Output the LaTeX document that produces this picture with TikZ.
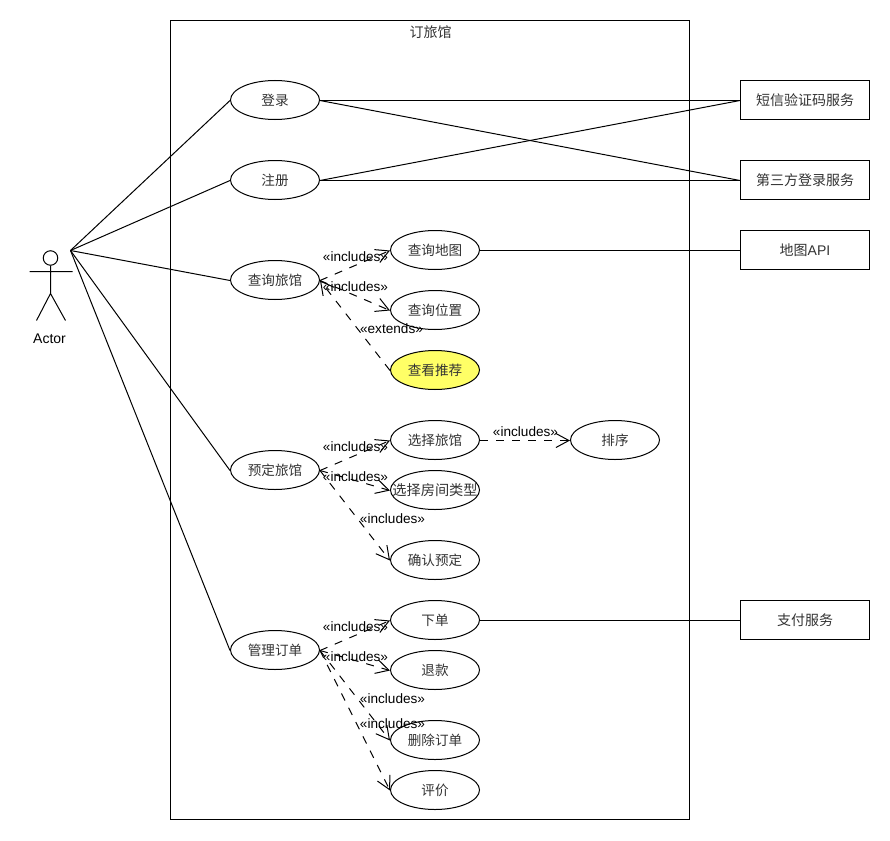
\documentclass[tikz,border=0pt]{standalone}
\usepackage{fontspec}
\setmainfont{Liberation Sans}
\newfontfamily\cjk{Noto Sans CJK SC}
\usetikzlibrary{arrows.meta,shapes.geometric}
\tikzset{
  every picture/.style={x=1pt,y=-1pt},
  usecase/.style={draw=black,line width=1pt,ellipse,minimum width=89pt,minimum height=39pt,inner sep=0pt,xshift=-0.5pt,yshift=0.5pt,fill=white,font=\cjk\fontsize{13.6}{15}\selectfont,text=black!80},
  service/.style={draw=black,line width=1pt,rectangle,minimum width=129pt,minimum height=39pt,inner sep=0pt,xshift=-0.5pt,yshift=0.5pt,fill=white,font=\cjk\fontsize{14}{15}\selectfont,text=black!80},
  assoc/.style={draw=black,line width=1pt},
  dep/.style={draw=black,line width=1pt,dash pattern=on 8pt off 8pt,-{Straight Barb[length=13pt,width=14pt,line width=1pt]}},
  stereo/.style={inner sep=0pt,font=\fontsize{13.6}{15}\selectfont,text=black},
  limb/.style={draw=black,line width=1pt}
}
\begin{document}
\begin{tikzpicture}
\useasboundingbox (-0.5,-0.5) rectangle (889.5,839.5);
\fill[white] (-0.5,-0.5) rectangle (889.5,839.5);
\node[draw=black,line width=1pt,minimum width=519pt,minimum height=799pt,inner sep=0pt] (frame) at (429.5,419.5) {};
\node[inner sep=0pt,font=\cjk\fontsize{14}{15}\selectfont,text=black!80] (title) at (430,32) {订旅馆};

% actor
\node[draw=black,line width=1pt,circle,minimum size=14.5pt,inner sep=0pt] (head) at (50,257.5) {};
\coordinate (hip) at (50,293);
\coordinate (armL) at (29,271);
\coordinate (armR) at (72,271);
\coordinate (legL) at (36,320);
\coordinate (legR) at (65,320);
\draw[limb] (head.south) -- (hip) (armL) -- (armR) (legL) -- (hip) -- (legR);
\node[stereo,font=\fontsize{14}{15}\selectfont] (actorlabel) at (49,338) {Actor};
\coordinate (actor) at (70,250);

% use cases
\node[usecase] (login) at (275,100) {登录};
\node[usecase] (reg) at (275,180) {注册};
\node[usecase] (search) at (275,280) {查询旅馆};
\node[usecase] (book) at (275,470) {预定旅馆};
\node[usecase] (manage) at (275,650) {管理订单};
\node[usecase] (map) at (435,250) {查询地图};
\node[usecase] (pos) at (435,310) {查询位置};
\node[usecase,fill={rgb,255:red,255;green,255;blue,102}] (rec) at (435,370) {查看推荐};
\node[usecase] (sel) at (435,440) {选择旅馆};
\node[usecase] (room) at (435,490) {\makebox[20pt]{\fontsize{14.2}{15}\selectfont 选择房间类型}};
\node[usecase] (conf) at (435,560) {确认预定};
\node[usecase] (sort) at (615,440) {排序};
\node[usecase] (order) at (435,620) {下单};
\node[usecase] (refund) at (435,670) {退款};
\node[usecase] (del) at (435,740) {删除订单};
\node[usecase] (rate) at (435,790) {评价};

% services
\node[service] (sms) at (805,100) {短信验证码服务};
\node[service] (third) at (805,180) {第三方登录服务};
\node[service] (mapapi) at (805,250) {地图{\rmfamily API}};
\node[service] (pay) at (805,620) {支付服务};

% associations
\foreach \t in {login,reg,search,book,manage} \draw[assoc] (actor) -- ([yshift=-0.5pt]\t.west);
\draw[assoc] ([yshift=-0.5pt]login.east) -- ([yshift=-0.5pt]sms.west);
\draw[assoc] ([yshift=-0.5pt]login.east) -- ([yshift=-0.5pt]third.west);
\draw[assoc] ([yshift=-0.5pt]reg.east) -- ([yshift=-0.5pt]sms.west);
\draw[assoc] ([yshift=-0.5pt]reg.east) -- ([yshift=-0.5pt]third.west);
\draw[assoc] ([yshift=-0.5pt]map.east) -- ([yshift=-0.5pt]mapapi.west);
\draw[assoc] ([yshift=-0.5pt]order.east) -- ([yshift=-0.5pt]pay.west);

% dependencies
\draw[dep] ([yshift=-0.5pt]search.east) -- ([yshift=-0.5pt]map.west);
\draw[dep] ([yshift=-0.5pt]search.east) -- ([yshift=-0.5pt]pos.west);
\draw[dep] ([yshift=-0.5pt]rec.west) -- ([yshift=-0.5pt]search.east);
\draw[dep] ([yshift=-0.5pt]book.east) -- ([yshift=-0.5pt]sel.west);
\draw[dep] ([yshift=-0.5pt]book.east) -- ([yshift=-0.5pt]room.west);
\draw[dep] ([yshift=-0.5pt]book.east) -- ([yshift=-0.5pt]conf.west);
\draw[dep] ([yshift=-0.5pt]sel.east) -- ([yshift=-0.5pt]sort.west);
\draw[dep] ([yshift=-0.5pt]manage.east) -- ([yshift=-0.5pt]order.west);
\draw[dep] ([yshift=-0.5pt]manage.east) -- ([yshift=-0.5pt]refund.west);
\draw[dep] ([yshift=-0.5pt]manage.east) -- ([yshift=-0.5pt]del.west);
\draw[dep] ([yshift=-0.5pt]manage.east) -- ([yshift=-0.5pt]rate.west);

% stereotype labels
\node[stereo] (l1) at (355,256) {«includes»};
\node[stereo] (l2) at (355,286) {«includes»};
\node[stereo] (l3) at (391,328) {«extends»};
\node[stereo] (l4) at (355,446) {«includes»};
\node[stereo] (l5) at (355,476) {«includes»};
\node[stereo] (l6) at (392,518) {«includes»};
\node[stereo] (l7) at (525,431) {«includes»};
\node[stereo] (l8) at (355,626) {«includes»};
\node[stereo] (l9) at (355,656) {«includes»};
\node[stereo] (l10) at (392,698) {«includes»};
\node[stereo] (l11) at (392,723) {«includes»};
\end{tikzpicture}
\end{document}
